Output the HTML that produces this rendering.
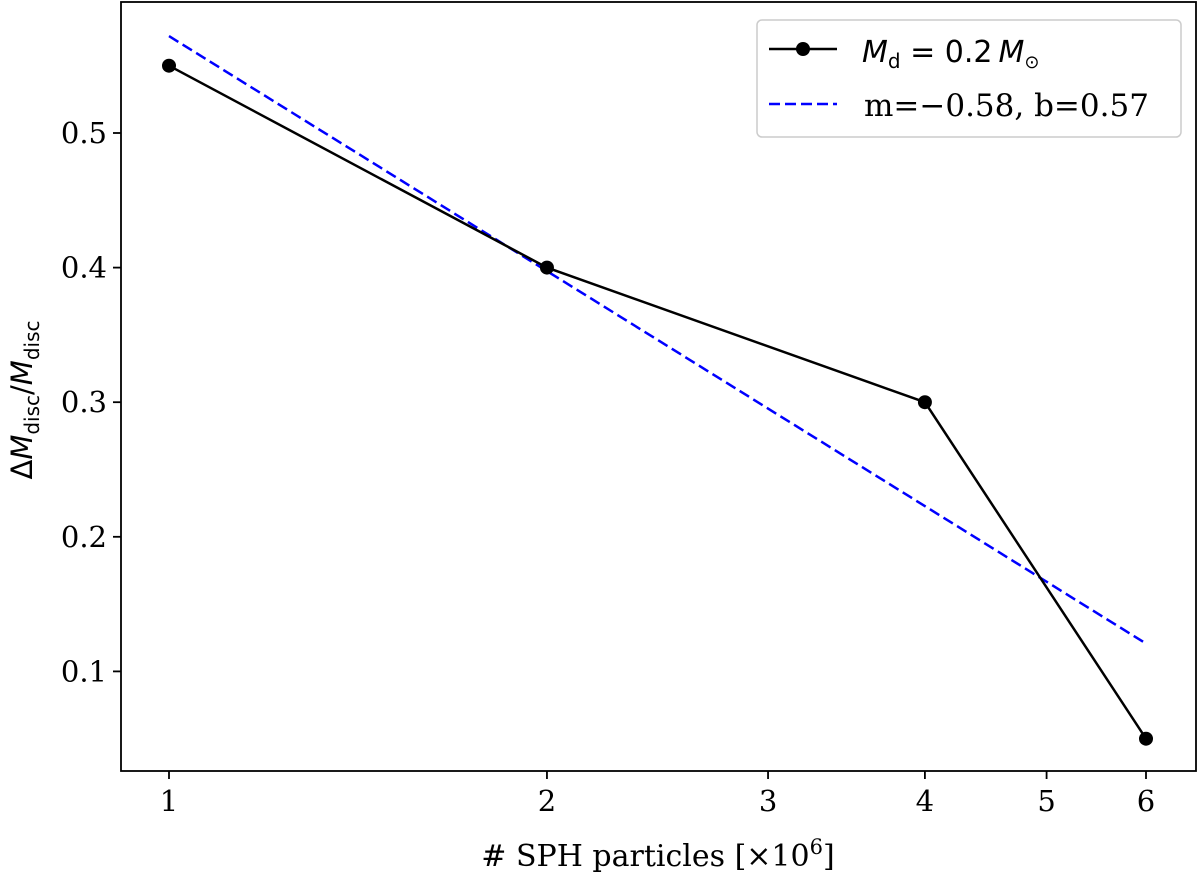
<!DOCTYPE html>
<html><head><meta charset="utf-8"><style>
body{margin:0;background:#fff;}
svg text{font-family:"DejaVu Serif","Liberation Serif",serif;}
</style></head><body>
<svg width="1200" height="875" xmlns="http://www.w3.org/2000/svg">
<g id="plot"></g>
<script>
const xTickLabels=["1","2","3","4","5","6"];
const xTickValues=[1,2,3,4,5,6];
const yTickValues=[0.1,0.2,0.3,0.4,0.5];
const yTickLabels=["0.1","0.2","0.3","0.4","0.5"];
const dataX=[1,2,4,6];
const dataY=[0.55,0.40,0.30,0.05];
const fitM=-0.58, fitB=0.572;
const fitX=[1,6];

const L=121,R=1196,T=2,B=771;
const px=v=>169+Math.log10(v)*(1146-169)/Math.log10(6);
const py=v=>133+(0.5-v)*1346;
const g=document.getElementById('plot');
const NS='http://www.w3.org/2000/svg';
function mk(t,a,parent){const e=document.createElementNS(NS,t);for(const k in a)e.setAttribute(k,a[k]);(parent||g).appendChild(e);return e;}

const fl=mk('line',{x1:px(fitX[0]),y1:py(fitB+fitM*Math.log10(fitX[0])),x2:px(fitX[1]),y2:py(fitB+fitM*Math.log10(fitX[1])),stroke:'#0000ff','stroke-width':2.5,'stroke-dasharray':'11,5'});


const dl=mk('polyline',{points:dataX.map((x,i)=>px(x)+','+py(dataY[i])).join(' '),fill:'none',stroke:'#000','stroke-width':2.5});


dataX.forEach((x,i)=>{const c=mk('circle',{cx:px(x),cy:py(dataY[i]),r:7,fill:'#000'});

});

const fr=mk('rect',{x:L,y:T,width:R-L,height:B-T,fill:'none',stroke:'#000','stroke-width':1.8});


xTickValues.forEach((v,i)=>{const x=px(v);mk('line',{x1:x,y1:B,x2:x,y2:B+8,stroke:'#000','stroke-width':1.8});
const t=mk('text',{x:x,y:B+40,'font-size':29,'text-anchor':'middle'});t.textContent=xTickLabels[i];

});
yTickValues.forEach((v,i)=>{const y=py(v);mk('line',{x1:L-8,y1:y,x2:L,y2:y,stroke:'#000','stroke-width':1.8});
const t=mk('text',{x:L-14,y:y+10,'font-size':29,'text-anchor':'end'});t.textContent=yTickLabels[i];

});
</script>
<text x="658" y="866" font-size="30" text-anchor="middle"># SPH particles [×10<tspan dy="-12" font-size="21">6</tspan><tspan dy="12">]</tspan></text>
<text transform="translate(32,400) rotate(-90)" font-size="29" text-anchor="middle" style="font-family:'DejaVu Sans',sans-serif">Δ<tspan font-style="italic">M</tspan><tspan font-size="20" dy="7">disc</tspan><tspan dy="-7">/</tspan><tspan font-style="italic">M</tspan><tspan font-size="20" dy="7">disc</tspan></text>
<g>
<rect x="757" y="20" width="424" height="117" rx="5" fill="#fff" stroke="#ccc" stroke-width="1.5"/>
<line x1="769" y1="49" x2="837" y2="49" stroke="#000" stroke-width="2.5"/>
<circle cx="803" cy="49" r="7" fill="#000"/>
<text x="862" y="62" font-size="30" style="font-family:'DejaVu Sans',sans-serif"><tspan font-style="italic">M</tspan><tspan font-size="20" dy="6">d</tspan><tspan dy="-6"> = 0.2</tspan><tspan font-style="italic" dx="6">M</tspan><tspan font-size="18" dy="6">⊙</tspan></text>
<line x1="769" y1="104" x2="837" y2="104" stroke="#0000ff" stroke-width="2.5" stroke-dasharray="11,5"/>
<text x="864" y="116" font-size="31">m=−0.58, b=0.57</text>
</g>
</svg>
</body></html>
